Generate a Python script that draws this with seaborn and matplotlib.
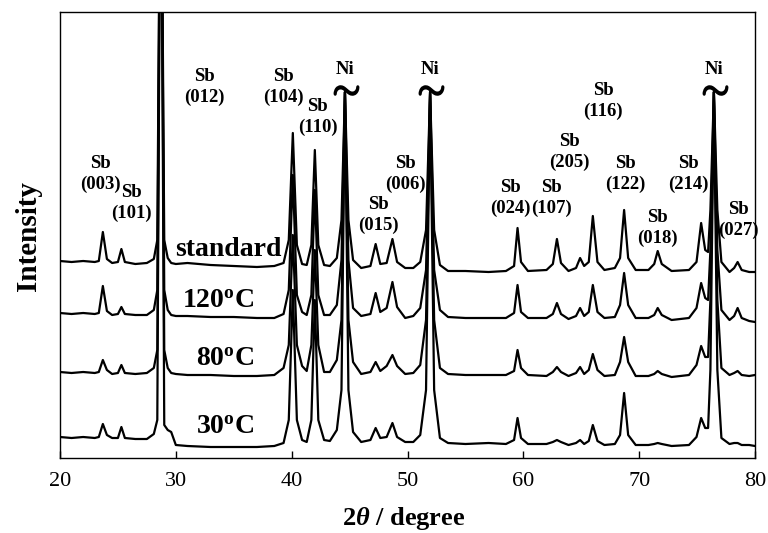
import matplotlib
matplotlib.use("Agg")
import matplotlib.pyplot as plt
import seaborn as sns
import pandas as pd

# ---------------- data (intensity in a.u.) ----------------
two_theta = [20.0, 21.0, 22.0, 23.0, 23.35, 23.7, 24.05, 24.5, 25.0, 25.3,
             25.6, 26.5, 27.5, 28.1, 28.4, 28.7, 29.0, 29.3, 29.6, 30.0,
             31.0, 33.0, 35.0, 37.0, 38.5, 39.3, 39.75, 40.1, 40.45, 40.9,
             41.3, 41.7, 42.0, 42.3, 42.8, 43.3, 43.9, 44.3, 44.6, 44.9,
             45.3, 46.0, 46.8, 47.25, 47.65, 48.2, 48.7, 49.1, 49.8, 50.5,
             51.1, 51.6, 51.95, 52.3, 52.8, 53.5, 55.0, 57.0, 58.5, 59.2,
             59.5, 59.8, 60.4, 62.0, 62.55, 62.9, 63.25, 63.9, 64.55, 64.9,
             65.25, 65.65, 66.0, 66.4, 67.0, 67.9, 68.35, 68.7, 69.05, 69.7,
             70.8, 71.3, 71.6, 71.95, 72.8, 74.3, 74.95, 75.35, 75.7, 75.95,
             76.15, 76.45, 76.75, 77.1, 77.8, 78.2, 78.5, 78.85, 79.5, 80.0]

intensity_standard = [197, 196, 197, 196, 197, 226, 199, 195, 196, 209,
                      196, 194, 195, 199, 218, 700, 218, 200, 195, 194,
                      195, 193, 192, 191, 192, 195, 218, 325, 213, 194,
                      193, 213, 308, 213, 193, 192, 200, 238, 366, 238,
                      198, 190, 192, 214, 194, 195, 219, 196, 190, 190,
                      196, 228, 366, 228, 193, 187, 187, 186, 187, 192,
                      230, 196, 187, 188, 194, 219, 195, 187, 190, 200,
                      192, 196, 242, 196, 188, 190, 200, 248, 200, 188,
                      188, 194, 207, 194, 187, 188, 196, 235, 208, 206,
                      248, 366, 248, 196, 186, 190, 196, 188, 186, 186]

intensity_120 = [145, 144, 145, 144, 145, 172, 147, 143, 144, 151,
                 144, 143, 143, 148, 168, 700, 168, 148, 143, 142,
                 142, 141, 141, 140, 140, 144, 168, 283, 163, 146,
                 143, 163, 268, 163, 143, 143, 153, 198, 366, 198,
                 150, 142, 144, 165, 146, 150, 176, 151, 140, 142,
                 150, 188, 366, 188, 148, 141, 140, 140, 140, 145,
                 173, 146, 140, 140, 144, 155, 144, 139, 142, 150,
                 142, 146, 173, 146, 140, 141, 153, 185, 153, 140,
                 140, 143, 150, 143, 138, 140, 150, 175, 160, 158,
                 208, 366, 208, 148, 138, 142, 150, 140, 137, 136]

intensity_80 = [86, 85, 86, 85, 86, 98, 88, 84, 85, 93,
                85, 84, 85, 90, 108, 700, 108, 90, 85, 84,
                83, 83, 82, 82, 83, 90, 113, 223, 113, 92,
                87, 113, 208, 113, 86, 86, 98, 138, 366, 138,
                96, 84, 86, 96, 87, 92, 103, 92, 84, 85,
                93, 138, 366, 138, 90, 84, 83, 83, 83, 87,
                108, 90, 83, 82, 86, 91, 86, 82, 85, 91,
                84, 88, 104, 88, 82, 83, 96, 121, 96, 82,
                82, 84, 87, 84, 81, 83, 93, 112, 101, 101,
                158, 366, 158, 90, 83, 85, 87, 83, 82, 83]

intensity_30 = [21, 20, 21, 20, 21, 34, 23, 20, 20, 31,
                20, 19, 19, 24, 38, 700, 33, 28, 26, 13,
                12, 11, 11, 11, 12, 15, 38, 168, 38, 18,
                16, 38, 158, 38, 18, 17, 28, 68, 366, 68,
                26, 16, 18, 30, 20, 21, 35, 21, 16, 16,
                23, 68, 366, 68, 20, 15, 14, 15, 14, 18,
                40, 20, 14, 14, 16, 18, 16, 13, 15, 18,
                14, 17, 33, 17, 13, 14, 23, 65, 23, 13,
                13, 14, 15, 14, 12, 13, 21, 40, 30, 30,
                88, 366, 88, 20, 14, 15, 15, 13, 13, 12]

samples = ["standard", "120oC", "80oC", "30oC"]
sample_labels = ["standard", "120$^{\\mathrm{o}}$C", "80$^{\\mathrm{o}}$C", "30$^{\\mathrm{o}}$C"]
series = [intensity_standard, intensity_120, intensity_80, intensity_30]

# peak annotations
peak_labels = ["Sb\n(003)", "Sb\n(101)", "Sb\n(012)", "Sb\n(104)", "Sb\n(110)",
               "Sb\n(015)", "Sb\n(006)", "Sb\n(024)", "Sb\n(107)", "Sb\n(205)",
               "Sb\n(116)", "Sb\n(122)", "Sb\n(018)", "Sb\n(214)", "Sb\n(027)"]
peak_label_x = [23.45, 26.2, 32.5, 39.25, 42.25,
                47.45, 49.8, 58.85, 62.4, 63.95,
                66.9, 68.8, 71.6, 74.25, 78.55]
peak_label_y = [284, 255, 371, 371, 341,
                243, 284, 260, 260, 306,
                357, 284, 230, 284, 238]
ni_x = [44.6, 51.95, 76.45]
ni_top = 366

# ---------------- figure ----------------
sns.set_theme(style="white")
plt.rcParams["font.family"] = ["Liberation Serif", "DejaVu Serif"]
plt.rcParams["text.color"] = "black"
plt.rcParams["axes.labelcolor"] = "black"
plt.rcParams["xtick.color"] = "black"
plt.rcParams["mathtext.fontset"] = "custom"
plt.rcParams["mathtext.rm"] = "Liberation Serif:bold"
plt.rcParams["mathtext.it"] = "Liberation Serif:italic:bold"
plt.rcParams["mathtext.bf"] = "Liberation Serif:bold"

rows = []
for name, vals in zip(samples, series):
    assert len(vals) == len(two_theta), (name, len(vals))
    for x, y in zip(two_theta, vals):
        rows.append({"two_theta": x, "intensity": y, "sample": name})
df = pd.DataFrame(rows)

fig = plt.figure(figsize=(7.68, 5.33), dpi=100)
ax = fig.add_axes([60 / 768, 75 / 533, 695 / 768, 446 / 533])

sns.lineplot(data=df, x="two_theta", y="intensity", hue="sample", units="sample",
             estimator=None, palette=["black"] * 4, linewidth=1.6, legend=False,
             sort=False, ax=ax)

# break marks on the truncated Ni peaks
ax.plot([x + 0.12 for x in ni_x], [ni_top + 2] * len(ni_x), linestyle="none",
        marker="$\\sim$", markersize=17, color="black", markeredgewidth=1.6)

ax.set_xlim(20, 80)
ax.set_ylim(0, 446)
ax.set_xticks([20, 30, 40, 50, 60, 70, 80])
ax.set_yticks([])
ax.tick_params(axis="x", direction="in", length=5, width=1, colors="black",
               labelsize=16, pad=10, bottom=True)
for s in ax.spines.values():
    s.set_color("black")
    s.set_linewidth(1.0)

ax.set_xlabel("2$\\theta$ / degree", fontsize=19, fontweight="bold")
ax.xaxis.set_label_coords(0.494, -0.105)
ax.set_ylabel("Intensity", fontsize=21, fontweight="bold")
ax.yaxis.set_label_coords(-0.026, 0.498)

# sample names
ax.text(34.5, 208, sample_labels[0], fontsize=20, fontweight="bold", ha="center", va="center")
ax.text(36.8, 156, sample_labels[1], fontsize=20, fontweight="bold", ha="right", va="center")
ax.text(36.8, 98, sample_labels[2], fontsize=20, fontweight="bold", ha="right", va="center")
ax.text(36.8, 31, sample_labels[3], fontsize=20, fontweight="bold", ha="right", va="center")

for t, x, y in zip(peak_labels, peak_label_x, peak_label_y):
    ax.text(x, y, t, fontsize=13.5, fontweight="bold", ha="center", va="center",
            linespacing=1.25)

for x in ni_x:
    ax.text(x, 388, "Ni", fontsize=13.5, fontweight="bold", ha="center", va="center")

fig.savefig("out.png", dpi=100)
